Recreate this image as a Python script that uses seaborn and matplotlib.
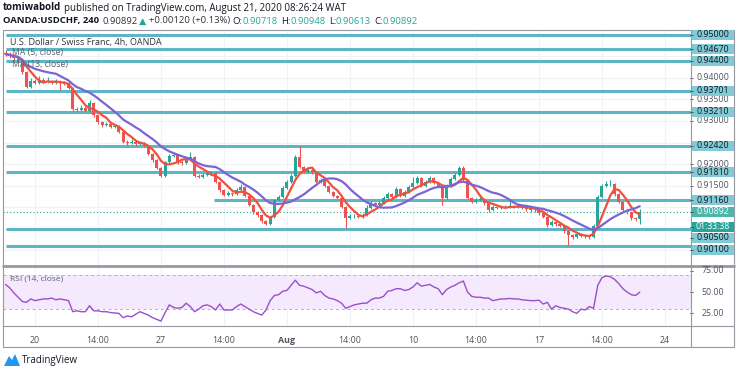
import numpy as np
import pandas as pd
import matplotlib
matplotlib.use("Agg")
import matplotlib.pyplot as plt
from matplotlib.patches import Rectangle, Polygon
from matplotlib.lines import Line2D
import seaborn as sns

sns.set_style("white")
plt.rcParams['font.family'] = ['Open Sans', 'DejaVu Sans']

# ---------------- data (4h candles, USDCHF) ----------------
first_open = 0.94580
closes = [0.94555, 0.94508, 0.94462, 0.94415, 0.94137, 0.93789, 0.93928, 0.93882, 0.93951, 0.93905,
          0.93928, 0.93882, 0.93905, 0.93882, 0.93859, 0.93766, 0.93279, 0.93255, 0.93302, 0.93232,
          0.93418, 0.93139, 0.92977, 0.92907, 0.92930, 0.92861, 0.92884, 0.92745, 0.92513, 0.92490,
          0.92513, 0.92466, 0.92490, 0.92420, 0.92234, 0.92095, 0.91910, 0.91724, 0.92049, 0.92188,
          0.92211, 0.92049, 0.92026, 0.92095, 0.92165, 0.91724, 0.91701, 0.91747, 0.91794, 0.91794,
          0.91585, 0.91399, 0.91283, 0.91330, 0.91306, 0.91399, 0.91469, 0.91260, 0.91051, 0.90889,
          0.90819, 0.90680, 0.90610, 0.90773, 0.91167, 0.91237, 0.91446, 0.91585, 0.91724, 0.92165,
          0.91933, 0.91817, 0.91863, 0.91817, 0.91585, 0.91631, 0.91492, 0.91353, 0.91260, 0.91214,
          0.91005, 0.90749, 0.90796, 0.90796, 0.90773, 0.90819, 0.90981, 0.91098, 0.91051, 0.91098,
          0.91214, 0.91306, 0.91237, 0.91422, 0.91260, 0.91353, 0.91469, 0.91562, 0.91678, 0.91492,
          0.91585, 0.91678, 0.91562, 0.91492, 0.91214, 0.91492, 0.91654, 0.91747, 0.91910, 0.91631,
          0.91214, 0.91121, 0.91167, 0.91190, 0.91098, 0.90935, 0.91005, 0.90981, 0.91005, 0.91005,
          0.91028, 0.91005, 0.91028, 0.90981, 0.90958, 0.90935, 0.90935, 0.90865, 0.90773, 0.90587,
          0.90657, 0.90610, 0.90564, 0.90448, 0.90355, 0.90309, 0.90378, 0.90332, 0.90332, 0.90309,
          0.90564, 0.91237, 0.91492, 0.91538, 0.91538, 0.91306, 0.91121, 0.90935, 0.90889, 0.90749,
          0.90718, 0.90892]
highs = [0.94640, 0.94600, 0.94560, 0.94500, 0.94440, 0.94160, 0.93990, 0.93970, 0.94050, 0.93990,
         0.94010, 0.93960, 0.93970, 0.93940, 0.93920, 0.93900, 0.93790, 0.93330, 0.93360, 0.93340,
         0.93480, 0.93440, 0.93160, 0.93000, 0.92980, 0.92960, 0.92930, 0.92910, 0.92770, 0.92550,
         0.92580, 0.92550, 0.92540, 0.92520, 0.92440, 0.92260, 0.92120, 0.91940, 0.92080, 0.92230,
         0.92260, 0.92240, 0.92090, 0.92140, 0.92280, 0.92190, 0.91760, 0.91790, 0.91840, 0.91840,
         0.91820, 0.91610, 0.91420, 0.91380, 0.91360, 0.91440, 0.91530, 0.91490, 0.91280, 0.91070,
         0.90910, 0.90840, 0.90710, 0.90800, 0.91200, 0.91280, 0.91490, 0.91620, 0.91770, 0.92200,
         0.92420, 0.91960, 0.91910, 0.91900, 0.91840, 0.91680, 0.91660, 0.91510, 0.91380, 0.91290,
         0.91240, 0.91030, 0.90840, 0.90840, 0.90820, 0.90860, 0.91060, 0.91140, 0.91130, 0.91140,
         0.91260, 0.91350, 0.91330, 0.91480, 0.91450, 0.91400, 0.91520, 0.91710, 0.91720, 0.91700,
         0.91630, 0.91730, 0.91700, 0.91590, 0.91510, 0.91530, 0.91690, 0.91790, 0.91950, 0.91960,
         0.91660, 0.91240, 0.91210, 0.91230, 0.91220, 0.91120, 0.91040, 0.91030, 0.91040, 0.91050,
         0.91180, 0.91060, 0.91070, 0.91050, 0.91000, 0.90990, 0.90980, 0.90960, 0.90890, 0.90800,
         0.90700, 0.90680, 0.90640, 0.90590, 0.90470, 0.90380, 0.90420, 0.90410, 0.90370, 0.90360,
         0.90600, 0.91280, 0.91530, 0.91600, 0.91630, 0.91560, 0.91330, 0.91140, 0.90960, 0.90910,
         0.90770, 0.90948]
lows = [0.94510, 0.94470, 0.94420, 0.94380, 0.94100, 0.93760, 0.93760, 0.93850, 0.93860, 0.93880,
        0.93870, 0.93850, 0.93860, 0.93720, 0.93830, 0.93740, 0.93240, 0.93220, 0.93230, 0.93200,
        0.93210, 0.93100, 0.92940, 0.92870, 0.92880, 0.92830, 0.92840, 0.92720, 0.92480, 0.92450,
        0.92460, 0.92430, 0.92440, 0.92390, 0.92200, 0.92060, 0.91880, 0.91690, 0.91700, 0.92020,
        0.92160, 0.92010, 0.91990, 0.92000, 0.92070, 0.91690, 0.91670, 0.91680, 0.91720, 0.91760,
        0.91550, 0.91360, 0.91250, 0.91260, 0.91270, 0.91280, 0.91380, 0.91230, 0.91020, 0.90850,
        0.90780, 0.90640, 0.90580, 0.90590, 0.90750, 0.91140, 0.91210, 0.91420, 0.91560, 0.91700,
        0.91900, 0.91790, 0.91790, 0.91780, 0.91550, 0.91560, 0.91460, 0.91320, 0.91230, 0.91180,
        0.90970, 0.90520, 0.90720, 0.90760, 0.90740, 0.90750, 0.90790, 0.90960, 0.91020, 0.91030,
        0.91070, 0.91190, 0.91200, 0.91210, 0.91230, 0.91240, 0.91330, 0.91440, 0.91540, 0.91460,
        0.91470, 0.91560, 0.91530, 0.91460, 0.91050, 0.91190, 0.91470, 0.91630, 0.91720, 0.91600,
        0.91180, 0.91090, 0.91100, 0.91140, 0.91060, 0.90880, 0.90910, 0.90950, 0.90960, 0.90970,
        0.90980, 0.90970, 0.90980, 0.90950, 0.90920, 0.90900, 0.90890, 0.90820, 0.90740, 0.90550,
        0.90560, 0.90570, 0.90530, 0.90410, 0.90125, 0.90270, 0.90280, 0.90300, 0.90290, 0.90260,
        0.90280, 0.90540, 0.91210, 0.91460, 0.91500, 0.91270, 0.91090, 0.90900, 0.90850, 0.90710,
        0.90680, 0.90613]
rsi = [59, 55, 49, 44, 39, 38, 42, 40, 41, 42,
       42, 43, 41, 42, 41, 40, 27, 28, 27, 27,
       34, 28, 28, 27, 27, 26, 25.5, 25, 20, 22,
       21, 24, 27, 25, 23, 20, 18, 16, 26, 35,
       32, 31, 32, 37, 33, 27, 30, 34, 35, 33,
       29, 36, 29, 29, 29, 33, 36, 33, 30, 27,
       25, 23, 29, 40, 46, 47, 51, 52, 58, 64,
       58, 57, 55, 53, 49, 51, 46, 43, 42, 40,
       37, 31, 33, 35, 36, 37, 37, 41, 43, 43,
       45, 51, 52, 54, 54, 52, 53, 56, 61, 57,
       58, 59, 56, 54, 47, 53, 56, 58, 61, 63,
       50, 45, 44, 44, 43, 43, 40, 41, 42, 42,
       42.6, 42, 42, 41, 40.5, 40, 40, 40.5, 36, 38,
       30, 34, 32, 31, 30, 27, 25, 30, 29, 33,
       31, 58, 67, 69, 68, 65, 60, 54, 50, 47,
       46, 50]

tick_pos = [7, 22, 37, 52, 67, 82, 97, 112, 127, 142, 157]
tick_labels = ['20', '14:00', '27', '14:00', 'Aug', '14:00', '10', '14:00', '17', '14:00', '24']

levels = [0.95000, 0.94670, 0.94400, 0.93701, 0.93210, 0.92420, 0.91810, 0.91160, 0.90500, 0.90100]
level_labels = ['0.95000', '0.94670', '0.94400', '0.93701', '0.93210', '0.92420',
                '0.91810', '0.91160', '0.90500', '0.90100']
level_start = [0, 0, 0, 0, 0, 0, 0, 49.7, 0, 0]
label_shift = [0, 0, 0, 0, 0, 0, 0, 0, 9, 4]   # px, TradingView pushes overlapping labels
price_ticks = [0.940, 0.935, 0.930, 0.920, 0.915]
rsi_ticks = [75, 50, 25]
last_price = 0.90892
countdown = '01:33:38'

# ---------------- figure ----------------
W, H = 740, 373
fig = plt.figure(figsize=(W / 100, H / 100), dpi=100)
fig.patch.set_facecolor('white')


def fx(px):
    return px / W


def fy(py):
    return 1 - py / H


UP, DOWN = '#26a69a', '#ef5350'
LEVEL_C = '#5cb6c6'
BOX_C = '#82cad6'
TXT = '#131722'
AXT = '#50535e'
GRID = '#eff2f7'
FRAME = '#9598a1'
XMAX = 163.2

ax = fig.add_axes([fx(3), fy(265), fx(691) - fx(3), fy(30) - fy(265)])
axr = fig.add_axes([fx(3), fy(326), fx(691) - fx(3), fy(267) - fy(326)])

opens = [first_open] + closes[:-1]
df = pd.DataFrame({'i': np.arange(len(closes)), 'open': opens, 'high': highs,
                   'low': lows, 'close': closes, 'rsi': rsi})
df['ma5'] = df['close'].rolling(5, min_periods=1).mean()
df['ma13'] = df['close'].rolling(13, min_periods=1).mean()

# grid
for p in np.arange(0.900, 0.9501, 0.005):
    ax.axhline(p, color=GRID, lw=0.8, zorder=0)
for t in tick_pos:
    ax.axvline(t, color=GRID, lw=0.8, zorder=0)
    axr.axvline(t, color=GRID, lw=0.8, zorder=0)

# horizontal levels
for lv, st in zip(levels, level_start):
    ax.hlines(lv, st, XMAX, color=LEVEL_C, lw=2.2, zorder=1)
ax.axhline(last_price, color=UP, ls=(0, (1, 2)), lw=0.8, zorder=1)

# candles
col = np.where(df['close'] >= df['open'], UP, DOWN)
ax.vlines(df['i'], df['low'], df['high'], colors=col, lw=0.8, zorder=3)
body = np.maximum((df['close'] - df['open']).abs(), 0.00004)
ax.bar(df['i'], body, bottom=np.minimum(df['open'], df['close']), width=0.72,
       color=col, linewidth=0, zorder=4)

# moving averages
sns.lineplot(data=df, x='i', y='ma5', ax=ax, color='#f0513f', lw=1.6, zorder=5)
sns.lineplot(data=df, x='i', y='ma13', ax=ax, color='#7c63d6', lw=1.6, zorder=5)

ax.set_xlim(-0.6, XMAX)
ax.set_ylim(0.89659, 0.95111)
ax.set_xlabel('')
ax.set_ylabel('')
ax.set_xticks([])
ax.set_yticks([])

# RSI panel
axr.axhspan(30, 70, color='#f4e9fd', zorder=0, lw=0)
for v in (70, 30):
    axr.axhline(v, color='#b9aac9', ls=(0, (3, 3)), lw=0.7, zorder=1)
sns.lineplot(data=df, x='i', y='rsi', ax=axr, color='#9b4fc9', lw=1.0, zorder=3)
axr.set_xlim(-0.6, XMAX)
axr.set_ylim(10.2, 79.5)
axr.set_xlabel('')
axr.set_ylabel('')
axr.set_yticks([])
axr.set_xticks(tick_pos)
axr.set_xticklabels(tick_labels)
axr.tick_params(axis='x', length=0, pad=7, labelsize=6.4, labelcolor=AXT)
for lab in axr.get_xticklabels():
    if lab.get_text() == 'Aug':
        lab.set_fontweight('bold')

for a in (ax, axr):
    for s in a.spines.values():
        s.set_visible(False)


def ypix(a, val):
    return H - a.transData.transform((0, val))[1]


def side_label(y, text, fc, tc):
    fig.add_artist(Rectangle((fx(692), fy(y + 5)), fx(734) - fx(692), 10 / H,
                             transform=fig.transFigure, fc=fc, ec='none', zorder=5))
    fig.add_artist(Line2D([fx(690), fx(693)], [fy(y), fy(y)], color=AXT, lw=0.6, zorder=6))
    fig.text(fx(713), fy(y), text, ha='center', va='center', fontsize=6.3, color=tc, zorder=7)


# price axis
for p in price_ticks:
    y = ypix(ax, p)
    fig.add_artist(Line2D([fx(690), fx(693)], [fy(y), fy(y)], color=AXT, lw=0.6))
    fig.text(fx(713), fy(y), f'{p:.5f}', ha='center', va='center', fontsize=6.3, color=AXT)
for lv, lab, sh in zip(levels, level_labels, label_shift):
    side_label(ypix(ax, lv) + sh, lab, BOX_C, TXT)
yl = ypix(ax, last_price)
side_label(yl, f'{last_price:.5f}', '#4db6ac', 'white')
side_label(yl + 15, countdown, '#26a69a', 'white')

for v in rsi_ticks:
    y = ypix(axr, v)
    fig.add_artist(Line2D([fx(690), fx(693)], [fy(y), fy(y)], color=AXT, lw=0.6))
    fig.text(fx(713), fy(y), f'{v:.2f}', ha='center', va='center', fontsize=6.3, color=AXT)

# frames
fig.add_artist(Rectangle((fx(3), fy(347)), fx(734) - fx(3), (347 - 30) / H, fill=False,
                         ec=FRAME, lw=0.8, transform=fig.transFigure))
fig.add_artist(Line2D([fx(3), fx(734)], [fy(266), fy(266)], color=FRAME, lw=2))
fig.add_artist(Line2D([fx(691), fx(691)], [fy(30), fy(347)], color=FRAME, lw=0.8))
fig.add_artist(Line2D([fx(3), fx(734)], [fy(326), fy(326)], color=FRAME, lw=0.8))

# in-chart legends
fig.text(fx(10), fy(42), 'U.S. Dollar / Swiss Franc, 4h, OANDA', fontsize=6.5, color='#333333', va='center')
fig.text(fx(12), fy(53), 'MA (5, close)', fontsize=6.2, color='#5d606b', va='center')
fig.text(fx(12), fy(64), 'MA (13, close)', fontsize=6.2, color='#5d606b', va='center')
fig.text(fx(10), fy(279), 'RSI (14, close)', fontsize=6, color='#5d606b', va='center')

# header
renderer = fig.canvas.get_renderer()


def chain(x, y, parts, size):
    for s, c, w, gap in parts:
        t = fig.text(fx(x), fy(y), s, fontsize=size, color=c, weight=w, va='center')
        x += t.get_window_extent(renderer).width + gap


chain(3, 8, [('tomiwabold', TXT, 'bold', 3),
             ('published on TradingView.com, August 21, 2020 08:26:24 WAT', TXT, 'normal', 0)], 7.0)
chain(3, 21, [('OANDA:USDCHF, 240', TXT, 'bold', 3),
              ('0.90892', '#333333', 'normal', 2),
              ('▲', UP, 'normal', 2),
              ('+0.00120 (+0.13%)', '#333333', 'normal', 3),
              ('O:', TXT, 'normal', 0), ('0.90718', UP, 'normal', 3),
              ('H:', TXT, 'normal', 0), ('0.90948', UP, 'normal', 3),
              ('L:', TXT, 'normal', 0), ('0.90613', UP, 'normal', 3),
              ('C:', TXT, 'normal', 0), ('0.90892', UP, 'normal', 0)], 6.8)

# logo
fig.add_artist(Polygon([(fx(4), fy(366)), (fx(9), fy(356)), (fx(12), fy(360)),
                        (fx(15), fy(354)), (fx(20), fy(366))], closed=True,
                       fc='#2196f3', ec='none', transform=fig.transFigure))
fig.text(fx(22), fy(361), 'TradingView', fontsize=7, color=TXT, va='center')

fig.savefig('out.png', dpi=100, facecolor='white')
